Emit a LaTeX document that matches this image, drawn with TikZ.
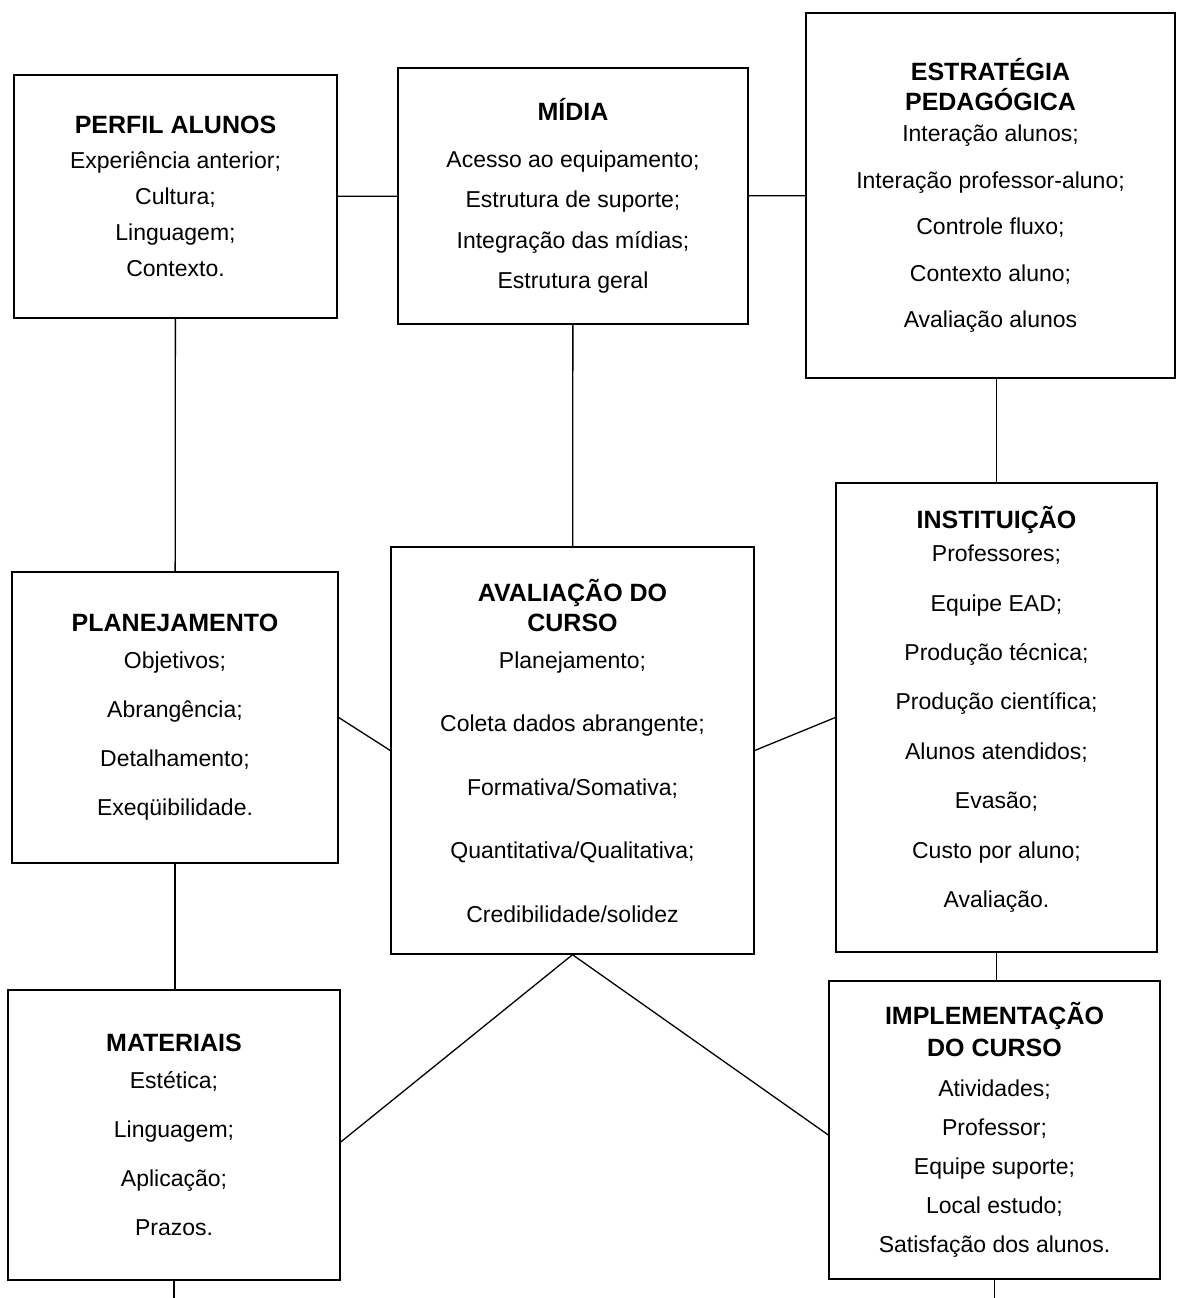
\documentclass[tikz,border=0pt]{standalone}
\usepackage{fontspec}
\setmainfont{Liberation Sans}
\newcommand{\titulo}{\fontsize{25}{30}\selectfont\bfseries}
\newcommand{\corpo}[1]{\fontsize{23}{#1}\selectfont}
\begin{document}
\begin{tikzpicture}[x=1pt,y=-1pt]
      \tikzstyle{bloco} = [rectangle, draw=black, line width=1.4pt, align=center, inner sep=0pt]
      \tikzstyle{liga} = [line width=1.3pt]

      \useasboundingbox (0,0) rectangle (1176,1298);

      \node (perfil) [bloco, minimum width=323pt, minimum height=243pt, font=\corpo{36}] at (175.5,196.5)
        {{\titulo PERFIL ALUNOS}\\[-1pt] Experiência anterior;\\ Cultura;\\ Linguagem;\\ Contexto.};
      \node (midia) [bloco, minimum width=350pt, minimum height=256pt, font=\corpo{40.5}] at (573,196)
        {{\titulo MÍDIA}\\[6.5pt] Acesso ao equipamento;\\ Estrutura de suporte;\\ Integração das mídias;\\ Estrutura geral};
      \node (estrategia) [bloco, minimum width=369pt, minimum height=365pt, font=\corpo{46.5}] at (990.5,195.5)
        {{\titulo ESTRATÉGIA}\\[-16.5pt] {\titulo PEDAGÓGICA}\\[-15.5pt] Interação alunos;\\ Interação professor-aluno;\\ Controle fluxo;\\ Contexto aluno;\\ Avaliação alunos};
      \node (planejamento) [bloco, minimum width=326pt, minimum height=291pt, font=\corpo{49}] at (175,717.5)
        {{\titulo PLANEJAMENTO}\\[-12pt] Objetivos;\\ Abrangência;\\ Detalhamento;\\ Exeqüibilidade.};
      \node (avaliacao) [bloco, minimum width=363pt, minimum height=407pt, font=\corpo{63.5}] at (572.5,750.5)
        {{\titulo AVALIAÇÃO DO}\\[-33.5pt] {\titulo CURSO}\\[-26.5pt] Planejamento;\\ Coleta dados abrangente;\\ Formativa/Somativa;\\ Quantitativa/Qualitativa;\\ Credibilidade/solidez};
      \node (instituicao) [bloco, minimum width=321pt, minimum height=469pt, font=\corpo{49.4}, text depth=21pt] at (996.5,717.5)
        {{\titulo INSTITUIÇÃO}\\[-16.4pt] Professores;\\ Equipe EAD;\\ Produção técnica;\\ Produção científica;\\ Alunos atendidos;\\ Evasão;\\ Custo por aluno;\\ Avaliação.};
      \node (materiais) [bloco, minimum width=332pt, minimum height=290pt, font=\corpo{49}] at (174,1135)
        {{\titulo MATERIAIS}\\[-12pt] Estética;\\ Linguagem;\\ Aplicação;\\ Prazos.};
      \node (implementacao) [bloco, minimum width=331pt, minimum height=298pt, font=\corpo{39}] at (994.5,1130)
        {{\titulo IMPLEMENTAÇÃO}\\[-7pt] {\titulo DO CURSO}\\[1pt] Atividades;\\ Professor;\\ Equipe suporte;\\ Local estudo;\\ Satisfação dos alunos.};

      \coordinate (fim-materiais) at (materiais.south |- 0,1298);
      \coordinate (fim-implementacao) at (implementacao.south |- 0,1298);

      \draw [liga] (perfil) -- (midia);
      \draw [liga] (midia) -- (estrategia);
      \draw [liga] (perfil) -- (planejamento);
      \draw [liga] (midia) -- (avaliacao);
      \draw [liga] (instituicao.north) -- (instituicao.north |- estrategia.south);
      \draw [liga] (planejamento.east) -- (avaliacao.west);
      \draw [liga] (avaliacao.east) -- (instituicao.west);
      \draw [liga] (planejamento.south) -- (planejamento.south |- materiais.north);
      \draw [liga] (instituicao.south) -- (instituicao.south |- implementacao.north);
      \draw [liga] (avaliacao.south) -- ([yshift=-7pt]materiais.east);
      \draw [liga] (avaliacao.south) -- ([yshift=-5pt]implementacao.west);
      \draw [liga] (materiais.south) -- (fim-materiais);
      \draw [liga] (implementacao.south) -- (fim-implementacao);
    \end{tikzpicture}
\end{document}
